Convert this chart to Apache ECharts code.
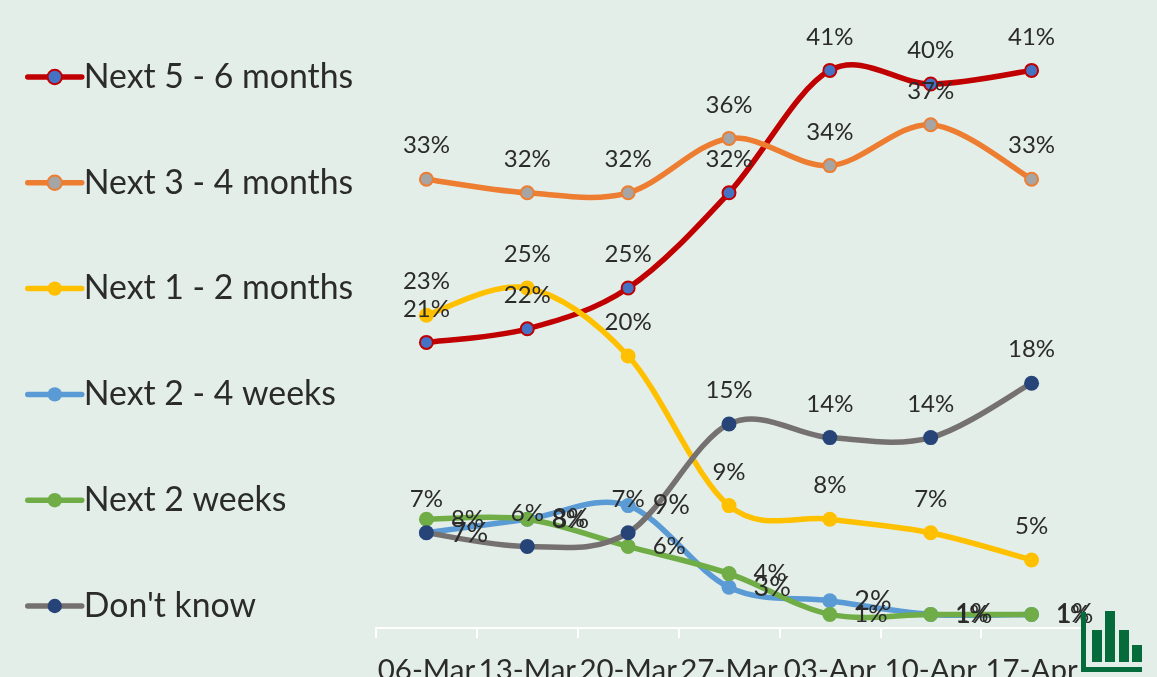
<!DOCTYPE html>
<html><head><meta charset="utf-8"><style>html,body{margin:0;padding:0;background:#e4eee8;overflow:hidden}#c{width:1157px;height:677px}</style>
<script src="https://cdn.jsdelivr.net/npm/echarts@6/dist/echarts.min.js"></script></head><body><div id="c"></div>
<script>
const categories = ['06-Mar','13-Mar','20-Mar','27-Mar','03-Apr','10-Apr','17-Apr'];
const next5to6Months = [21,22,25,32,41,40,41];
const next3to4Months = [33,32,32,36,34,37,33];
const next1to2Months = [23,25,20,9,8,7,5];
const next2to4Weeks = [7,8,9,3,2,1,1];
const next2Weeks = [8,8,6,4,1,1,1];
const dontKnow = [7,6,7,15,14,14,18];
const FONT = 'Lato';
const TXT = '#2b2b2b';
const LINE_W = 5.5;
// Excel-style smoothed curve: one cubic per data segment, positioned with the axis scales
function curve(name,data,color,z){
  return {name:name+' curve',type:'custom',coordinateSystem:'cartesian2d',z,silent:true,animation:false,
    data:data.map((v,i)=>[i,v]),encode:{x:0,y:1},
    renderItem(params,api){
      const i=params.dataIndex;
      if(i>=data.length-1) return {type:'group',children:[]};
      const p=k=>api.coord([Math.max(0,Math.min(data.length-1,k)),data[Math.max(0,Math.min(data.length-1,k))]]);
      const p0=p(i-1),p1=p(i),p2=p(i+1),p3=p(i+2);
      return {type:'bezierCurve',shape:{x1:p1[0],y1:p1[1],x2:p2[0],y2:p2[1],
        cpx1:p1[0]+(p2[0]-p0[0])/6,cpy1:p1[1]+(p2[1]-p0[1])/6,
        cpx2:p2[0]-(p3[0]-p1[0])/6,cpy2:p2[1]-(p3[1]-p1[1])/6},
        style:{fill:null,stroke:color,lineWidth:LINE_W,lineCap:'round'}};
    }};
}
function s(name,data,line,fill,border,pos,fs){
  return {name,type:'line',data,z:20,symbol:'circle',symbolSize:border?13:15,showSymbol:true,
    lineStyle:{color:line,width:0},
    itemStyle:{color:fill,borderColor:border||fill,borderWidth:border?2:0},
    label:{show:true,position:pos,distance:pos==='top'?14:17,formatter:'{c}%',color:TXT,fontFamily:FONT,fontSize:fs||24},
    emphasis:{disabled:true},animation:false};
}
const chart = echarts.init(document.getElementById('c'),null,{renderer:'canvas'});
const G='#056b3a';
chart.setOption({
  backgroundColor:'#e4eee8',animation:false,
  grid:{left:376,right:75,top:16,bottom:49,outerBoundsMode:'none'},
  legend:{orient:'vertical',left:25,top:60,padding:0,itemWidth:54,itemHeight:18,itemGap:71.8,
    lineStyle:{width:LINE_W,cap:'round'},
    textStyle:{fontFamily:FONT,fontSize:33.8,color:TXT,padding:[0,0,0,-3]},
    data:['Next 5 - 6 months','Next 3 - 4 months','Next 1 - 2 months','Next 2 - 4 weeks','Next 2 weeks',"Don't know"]},
  xAxis:{type:'category',data:categories,boundaryGap:true,
    axisLine:{lineStyle:{color:'#ffffff',width:2}},
    axisTick:{show:true,length:10,lineStyle:{color:'#ffffff',width:2}},
    axisLabel:{color:TXT,fontFamily:FONT,fontSize:29.5,margin:27,interval:0,hideOverlap:false}},
  yAxis:{type:'value',min:0,max:45,show:false,splitLine:{show:false}},
  series:[
    curve('Next 5 - 6 months',next5to6Months,'#c00000',2),
    curve('Next 3 - 4 months',next3to4Months,'#ed7d31',3),
    curve('Next 1 - 2 months',next1to2Months,'#ffc000',4),
    curve('Next 2 - 4 weeks',next2to4Weeks,'#5b9bd5',5),
    curve('Next 2 weeks',next2Weeks,'#70ad47',6),
    curve("Don't know",dontKnow,'#767171',7),
    s('Next 5 - 6 months',next5to6Months,'#c00000','#4472c4','#c00000','top'),
    s('Next 3 - 4 months',next3to4Months,'#ed7d31','#a5a5a5','#ed7d31','top'),
    s('Next 1 - 2 months',next1to2Months,'#ffc000','#ffc000',null,'top'),
    s('Next 2 - 4 weeks',next2to4Weeks,'#5b9bd5','#5b9bd5',null,'right',27),
    s('Next 2 weeks',next2Weeks,'#70ad47','#70ad47',null,'right'),
    s("Don't know",dontKnow,'#767171','#264478',null,'top')
  ],
  graphic:[
    {type:'rect',z:100,shape:{x:1081,y:612,width:5,height:60},style:{fill:G}},
    {type:'rect',z:100,shape:{x:1081,y:667,width:61,height:5},style:{fill:G}},
    {type:'rect',z:100,shape:{x:1092,y:630,width:10,height:32},style:{fill:G}},
    {type:'rect',z:100,shape:{x:1105,y:611,width:10,height:51},style:{fill:G}},
    {type:'rect',z:100,shape:{x:1119,y:630,width:10,height:32},style:{fill:G}},
    {type:'rect',z:100,shape:{x:1132,y:645,width:10,height:17},style:{fill:G}}
  ]
});
</script></body></html>
